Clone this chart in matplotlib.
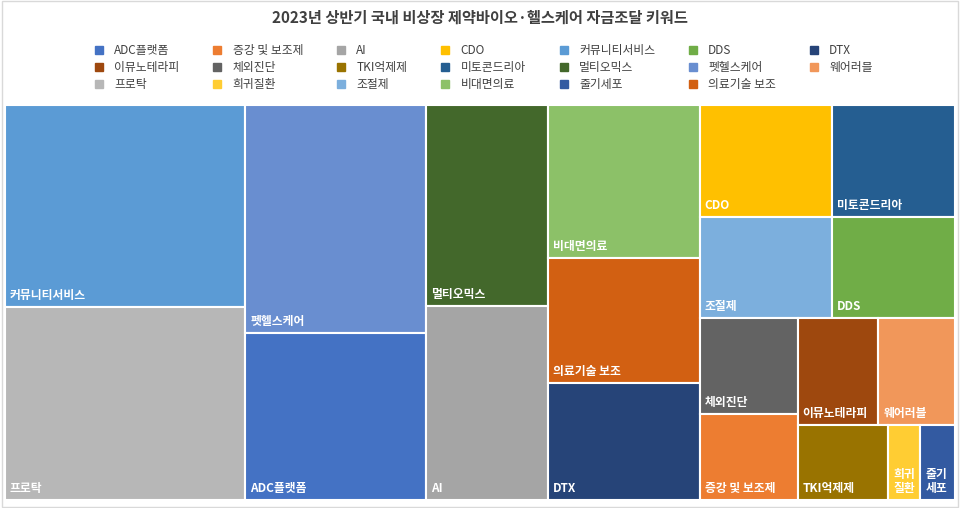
import matplotlib
matplotlib.use('Agg')
import matplotlib.pyplot as plt
from matplotlib.patches import Rectangle
from matplotlib.lines import Line2D

plt.rcParams['font.family'] = 'Noto Sans CJK KR'

TITLE = '2023년 상반기 국내 비상장 제약바이오·헬스케어 자금조달 키워드'

# legend order (as in the reference)
categories = ['ADC플랫폼', '증강 및 보조제', 'AI', 'CDO', '커뮤니티서비스', 'DDS', 'DTX',
              '이뮤노테라피', '체외진단', 'TKI억제제', '미토콘드리아', '멀티오믹스', '펫헬스케어', '웨어러블',
              '프로탁', '희귀질환', '조절제', '비대면의료', '줄기세포', '의료기술 보조']
values = [30.2, 8.4, 23.5, 14.8, 48.5, 12.4, 17.8,
          8.6, 9.4, 6.8, 13.8, 24.3, 41.3, 8.2,
          46.3, 2.4, 13.3, 23.3, 2.6, 19.0]
colors = ['#4472C4', '#ED7D31', '#A5A5A5', '#FFC000', '#5B9BD5', '#70AD47', '#264478',
          '#9E480E', '#636363', '#997300', '#255E91', '#43682B', '#698ED0', '#F1975A',
          '#B7B7B7', '#FFCD33', '#7CAFDD', '#8CC168', '#335AA1', '#D26012']

# nesting of the tiles: 'h' splits side by side, 'v' stacks top to bottom
c = {name: i for i, name in enumerate(categories)}
GROUPS = ('h', [
    ('v', [c['커뮤니티서비스'], c['프로탁']]),
    ('v', [c['펫헬스케어'], c['ADC플랫폼']]),
    ('v', [c['멀티오믹스'], c['AI']]),
    ('v', [c['비대면의료'], c['의료기술 보조'], c['DTX']]),
    ('v', [
        ('h', [c['CDO'], c['미토콘드리아']]),
        ('h', [c['조절제'], c['DDS']]),
        ('h', [
            ('v', [c['체외진단'], c['증강 및 보조제']]),
            ('v', [
                ('h', [c['이뮤노테라피'], c['웨어러블']]),
                ('h', [c['TKI억제제'], c['희귀질환'], c['줄기세포']]),
            ]),
        ]),
    ]),
])

W, H = 950.0, 395.0


def total(node):
    if isinstance(node, int):
        return values[node]
    return sum(total(n) for n in node[1])


def layout(node, x, y, w, h, out):
    if isinstance(node, int):
        out.append((node, x, y, w, h))
        return
    kind, kids = node
    s = total(node)
    for k in kids:
        f = total(k) / s
        if kind == 'h':
            layout(k, x, y, w * f, h, out)
            x += w * f
        else:
            layout(k, x, y, w, h * f, out)
            y += h * f


rects = []
layout(GROUPS, 0, 0, W, H, rects)

fig = plt.figure(figsize=(9.6, 5.08), dpi=100)
fig.patch.set_facecolor('white')
ax = fig.add_axes([5 / 960, 8 / 508, 950 / 960, 395 / 508])
ax.set_xlim(0, W)
ax.set_ylim(H, 0)
ax.axis('off')

for idx, x, y, w, h in rects:
    ax.add_patch(Rectangle((x, y), w, h, facecolor=colors[idx], edgecolor='white', linewidth=1.5))
    label = categories[idx]
    if w < 40 and len(label) > 2:
        label = label[:2] + '\n' + label[2:]
    ax.text(x + 5, y + h - 5, label, color='white', fontsize=8.5, fontweight='bold',
            ha='left', va='bottom', linespacing=1.1)

fig.text(0.5, 0.965, TITLE, ha='center', va='center', fontsize=11, fontweight='bold', color='#404040')

# matplotlib fills legend columns first; reorder so it reads row by row
ncol = 7
leg_order = [i for col in range(ncol) for i in range(col, len(categories), ncol)]
handles = [Line2D([], [], marker='s', linestyle='', color=colors[i], markersize=6) for i in leg_order]
labels = [categories[i] for i in leg_order]
fig.legend(handles, labels, ncol=ncol, loc='upper center', bbox_to_anchor=(0.5, 0.935),
           frameon=False, fontsize=8.5, handletextpad=0.3, columnspacing=2.2,
           labelspacing=0.35, labelcolor='#404040')

fig.add_artist(Rectangle((0.002, 0.002), 0.996, 0.996, transform=fig.transFigure,
                         fill=False, edgecolor='#D9D9D9', linewidth=1))

plt.savefig('out.png', dpi=100)
